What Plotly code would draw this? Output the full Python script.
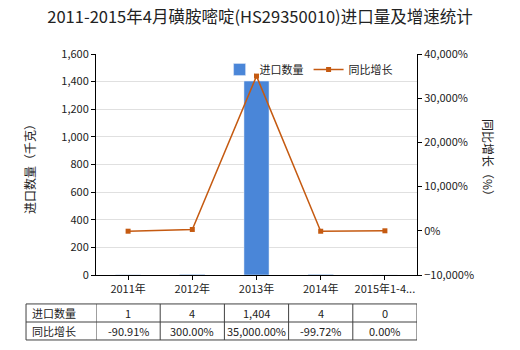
import plotly.graph_objects as go

categories = ["2011年", "2012年", "2013年", "2014年", "2015年1-4..."]
import_qty = [1, 4, 1404, 4, 0]
growth = [-90.91, 300.00, 35000.00, -99.72, 0.00]
qty_labels = ["1", "4", "1,404", "4", "0"]
growth_labels = ["-90.91%", "300.00%", "35,000.00%", "-99.72%", "0.00%"]
row_names = ["进口数量", "同比增长"]

FONT = "Noto Sans CJK SC"
BAR_C = "#4A86D8"
LINE_C = "#C55A11"

xs = list(range(len(categories)))
fig = go.Figure()
fig.add_trace(go.Bar(x=xs, y=import_qty, name="进口数量", marker_color=BAR_C,
                     width=0.39, yaxis="y"))
fig.add_trace(go.Scatter(x=xs, y=growth, name="同比增长", mode="lines+markers",
                         line=dict(color=LINE_C, width=1.5),
                         marker=dict(symbol="square", size=5, color=LINE_C),
                         yaxis="y2"))

# table
shapes = []
y_rows = [-0.131, -0.2127, -0.294]
for yy in y_rows:
    shapes.append(dict(type="line", xref="paper", yref="paper", x0=-0.218, x1=1.0,
                       y0=yy, y1=yy, line=dict(color="#404040", width=1)))
shapes.append(dict(type="line", xref="paper", yref="paper", x0=-0.218, x1=-0.218,
                   y0=y_rows[0], y1=y_rows[2], line=dict(color="#404040", width=1)))
for i in range(len(categories) + 1):
    shapes.append(dict(type="line", xref="x", yref="paper", x0=i - 0.5, x1=i - 0.5,
                       y0=y_rows[0], y1=y_rows[2], line=dict(color="#404040", width=1)))

annotations = []
for r, name in enumerate(row_names):
    annotations.append(dict(xref="paper", yref="paper", x=-0.206, y=(y_rows[r] + y_rows[r + 1]) / 2,
                            text=name, showarrow=False, xanchor="left", yanchor="middle",
                            font=dict(family=FONT, size=11, color="#222")))
for i in xs:
    for r, labels in enumerate([qty_labels, growth_labels]):
        annotations.append(dict(xref="x", yref="paper", x=i, y=(y_rows[r] + y_rows[r + 1]) / 2,
                                text=labels[i], showarrow=False, xanchor="center", yanchor="middle",
                                font=dict(family=FONT, size=11, color="#222")))

# axis titles
annotations.append(dict(xref="paper", yref="paper", x=(29 - 96) / 321, y=(275 - 166) / 221,
                        text="进口数量（千克）", textangle=-90, showarrow=False,
                        xanchor="center", yanchor="middle",
                        font=dict(family=FONT, size=12, color="#222")))
annotations.append(dict(xref="paper", yref="paper", x=(489 - 96) / 321, y=(275 - 160) / 221,
                        text="同比增长（%）", textangle=90, showarrow=False,
                        xanchor="center", yanchor="middle",
                        font=dict(family=FONT, size=12, color="#222")))

fig.update_layout(
    width=520, height=350,
    margin=dict(l=96, r=103, t=54, b=75),
    paper_bgcolor="white", plot_bgcolor="white",
    font=dict(family=FONT, size=11, color="#333"),
    title=dict(text="2011-2015年4月磺胺嘧啶(HS29350010)进口量及增速统计", x=0.5, xanchor="center",
               y=0.952, yanchor="middle", font=dict(family=FONT, size=16.5, color="#222")),
    showlegend=True,
    legend=dict(orientation="h", x=0.385, y=0.93, xanchor="left", yanchor="middle",
                bgcolor="rgba(0,0,0,0)", font=dict(family=FONT, size=11, color="#222"),
                itemwidth=30, traceorder="normal"),
    bargap=0.6,
    xaxis=dict(range=[-0.5, 4.5], tickvals=xs, ticktext=categories, showline=True,
               linecolor="black", linewidth=1, ticks="outside", ticklen=4, tickcolor="black",
               showgrid=False, tickfont=dict(size=11, color="#222"), fixedrange=True),
    yaxis=dict(range=[0, 1600], dtick=200, tickformat=",", showline=True, linecolor="black",
               linewidth=1, ticks="outside", ticklen=4, tickcolor="black", gridcolor="#e0e0e0",
               zeroline=False, tickfont=dict(size=11, color="#222")),
    yaxis2=dict(range=[-10000, 40000], dtick=10000, tickformat=",", ticksuffix="%",
                overlaying="y", side="right", showline=True, linecolor="black", linewidth=1,
                ticks="outside", ticklen=4, tickcolor="black", showgrid=False, zeroline=False,
                tickfont=dict(size=11, color="#222")),
    shapes=shapes, annotations=annotations,
)
fig.write_html("out.html")
